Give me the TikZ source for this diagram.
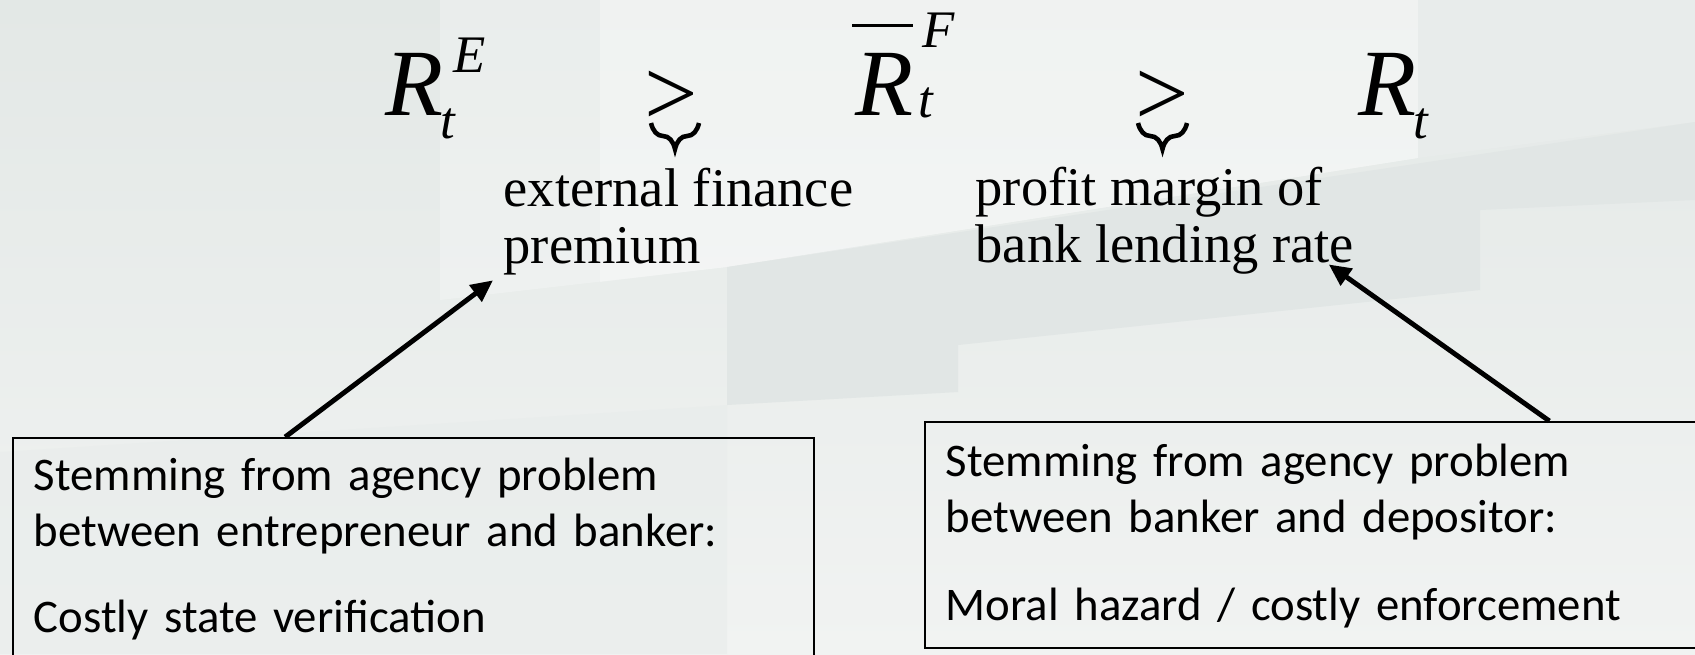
\documentclass[tikz,border=0pt]{standalone}
\usepackage{fontspec}
\setmainfont{Liberation Serif}
\newfontfamily\boxfont{Carlito}
\usetikzlibrary{arrows.meta,decorations.pathreplacing}
\definecolor{haze}{HTML}{E3E8E6}
\definecolor{mist}{HTML}{F1F3F2}
\definecolor{slab}{HTML}{E1E6E5}
\definecolor{pane}{HTML}{E8ECEB}

\begin{document}
\begin{tikzpicture}[x=0.01cm,y=-0.01cm,
  sym/.style={inner sep=0pt,anchor=base west,font=\fontsize{27}{27}\selectfont\itshape},
  idx/.style={inner sep=0pt,anchor=base west,font=\fontsize{15}{15}\selectfont\itshape},
  rel/.style={inner sep=0pt,anchor=base west,font=\fontsize{27}{27}\selectfont},
  gap/.style={inner sep=0pt,anchor=base west,align=left,font=\fontsize{15.5}{16.1}\selectfont},
  note/.style={draw=black,line width=.5pt,anchor=north west,align=left,inner xsep=0.21cm,inner ysep=0.12cm,font=\boxfont\fontsize{13.3}{15.9}\selectfont},
  lead/.style={line width=1.4pt,-{Triangle[length=0.22cm,width=0.2cm]}},
  curly/.style={decorate,decoration={brace,mirror,amplitude=0.26cm},line width=1.3pt}]
\useasboundingbox (0,0) rectangle (1695,654);
\clip (0,0) rectangle (1695,654);
\shade[top color=haze,bottom color=mist] (0,0) rectangle (1695,654);
\fill[white,opacity=.25] (440,0) -- (1418,0) -- (1418,158) -- (727,267) -- (440,300) -- cycle;
\fill[white,opacity=.3] (600,0) -- (1418,0) -- (1418,158) -- (727,267) -- (600,282) -- cycle;
\fill[pane] (1418,0) -- (1695,0) -- (1695,122) -- (1418,158) -- cycle;
\fill[slab] (727,267) -- (1695,122) -- (1695,200) -- (1480,210) -- (1480,290) -- (958,345) -- (958,392) -- (727,405) -- cycle;
\fill[pane,opacity=.6] (0,452) -- (727,405) -- (727,654) -- (0,654) -- cycle;

\node[sym] (rE) at (385,115) {R};
\node[idx] (rEsup) at (453,72) {E};
\node[idx] (rEsub) at (440,138) {t};
\node[rel] (gt1) at (644,125) {>};
\draw[curly] (651,123) -- (699,123);
\node[sym] (rF) at (855,115) {R};
\draw[line width=.85pt] (852,25) -- (913,25);
\node[idx] (rFsup) at (922,47) {F};
\node[idx] (rFsub) at (918,117) {t};
\node[rel] (gt2) at (1135,125) {>};
\draw[curly] (1138,123) -- (1187,123);
\node[sym] (rB) at (1358,115) {R};
\node[idx] (rBsub) at (1413,138) {t};

\node[gap] (efp) at (503,263) {external finance\\premium};
\node[gap] (pm) at (975,262) {profit margin of\\bank lending rate};

\node[note,text width=7.59cm] (lnote) at (12,437) {\rule{0pt}{0.41cm}Stemming from agency problem\\between entrepreneur and banker:\\[0.3cm]Costly state verification\rule[-0.4cm]{0pt}{0pt}};
\node[note,text width=7.54cm] (rnote) at (924,421) {\rule{0pt}{0.43cm}Stemming from agency problem\\between banker and depositor:\\[0.32cm]Moral hazard / costly enforcement\rule[-0.15cm]{0pt}{0pt}};

\draw[lead] ([xshift=2.73cm]lnote.north west) -- ([xshift=-0.1cm,yshift=-0.05cm]efp.south west);
\draw[lead] ([xshift=6.25cm]rnote.north west) -- ([xshift=-0.26cm,yshift=0.1cm]pm.south east);
\end{tikzpicture}
\end{document}
